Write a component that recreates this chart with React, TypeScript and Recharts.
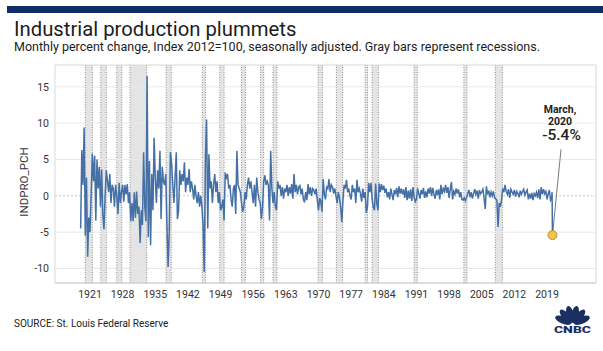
import React from 'react';
import { LineChart, Line, XAxis, YAxis, ReferenceArea, ReferenceLine, ReferenceDot } from 'recharts';

// Quarterly readings of the monthly % change (INDPRO_PCH)
const pch1919_1928 = [
  -4.5, 6.3, 1.5, 9.4,
  -5.5, 2.5, -8.4, -3.0,
  -5.0, 0.0, 5.8, 2.0,
  5.5, -3.4, 5.0, 1.0,
  4.0, -1.5, 3.6, -2.5,
  -4.6, 0.0, 3.5, 2.0,
  0.5, 3.0, -1.0, 1.5,
  1.0, -1.5, 1.5, 0.0,
  -2.5, 1.8, -1.0, 0.5,
  1.5, -0.8, 1.5, 0.2,
];
const pch1929_1938 = [
  1.6, -1.0, 0.5, -3.5,
  -1.0, -3.5, 0.5, -3.0,
  0.6, -2.5, -1.5, -6.5,
  -2.0, -4.0, 6.0, -1.5,
  -3.5, 16.5, -5.7, 4.8,
  -6.8, 3.0, -2.0, 8.0,
  2.5, -1.0, 3.5, 1.0,
  6.2, -3.2, 4.0, 2.0,
  1.5, 3.0, -4.0, -9.8,
  -5.0, 6.0, 4.5, 1.5,
];
const pch1939_1948 = [
  -1.0, 2.5, 6.0, -3.2,
  -2.0, 3.5, 1.5, 3.0,
  2.0, 4.6, 0.5, 2.5,
  1.5, 3.7, 0.5, 2.0,
  1.0, -0.5, 1.5, 0.0,
  -1.0, 0.5, -1.5, 0.0,
  -1.5, -4.0, -10.5, 5.0,
  10.5, -4.5, 5.7, 1.0,
  2.0, -1.0, 1.5, 3.0,
  0.5, 2.0, -1.0, 0.5,
];
const pch1949_1958 = [
  -2.0, -1.5, -0.5, -3.4,
  3.2, 2.5, 3.0, 1.0,
  1.5, -0.5, -1.5, 1.0,
  1.5, -2.5, 6.2, 1.5,
  1.0, 0.5, -1.0, -2.2,
  -1.5, 0.5, -0.5, 1.5,
  2.5, 1.0, 2.0, 0.5,
  -1.0, 1.5, -1.5, 2.5,
  0.5, -0.5, -1.0, -3.2,
  -1.5, 2.0, 2.8, 1.5,
];
const pch1959_1968 = [
  2.0, 1.5, -3.4, 6.2,
  1.0, -1.0, 0.5, -1.5,
  -2.0, 2.0, 1.0, 1.5,
  0.0, 1.2, -0.4, 1.0,
  0.5, 1.5, 0.0, 1.2,
  0.3, 1.6, -0.4, 3.0,
  0.5, 1.5, 0.2, 1.2,
  1.4, 0.2, 1.0, -0.5,
  -0.9, 0.5, -0.6, 1.6,
  0.2, 1.2, 0.0, 1.0,
];
const pch1969_1978 = [
  0.8, 0.2, 1.0, -0.6,
  -2.0, -0.3, -0.8, -2.2,
  2.3, 0.2, -0.5, 1.2,
  1.0, 2.3, 0.5, 1.5,
  1.2, 0.3, 1.0, 0.0,
  -1.0, 0.5, -0.3, -1.5,
  -3.6, -0.5, 1.5, 1.0,
  2.2, 0.5, 1.0, 0.0,
  -0.5, 1.5, 0.5, 1.0,
  -1.0, 2.2, 0.5, 1.0,
];
const pch1979_1988 = [
  0.3, -0.8, 1.0, -0.3,
  0.5, -2.3, -1.5, 1.8,
  0.5, 1.8, -0.5, -1.5,
  -2.0, 1.7, -1.0, -2.0,
  1.7, 0.5, 1.6, 0.8,
  1.4, 0.4, 1.0, -0.2,
  0.5, -0.5, 1.0, 0.2,
  -0.6, 0.8, 0.2, 1.1,
  -0.2, 1.3, 0.3, 1.0,
  0.2, 0.9, -0.3, 1.2,
];
const pch1989_1998 = [
  -0.6, 0.7, -0.4, 0.9,
  -0.7, 1.2, -0.2, -0.8,
  -0.5, 1.0, 0.3, -0.4,
  0.8, 0.2, 1.1, -0.3,
  0.6, -0.2, 1.0, 0.3,
  1.2, 0.0, 1.1, 0.2,
  -0.4, 0.8, 0.1, 0.9,
  -0.5, 1.5, 0.2, 1.0,
  0.6, 1.5, 0.4, 1.2,
  -0.3, 0.9, 1.9, -0.5,
];
const pch1999_2008 = [
  0.6, 0.2, 1.0, 0.3,
  0.9, -0.2, 0.5, -0.5,
  -0.6, -0.3, -0.7, -0.2,
  0.3, 0.8, -0.2, 0.5,
  -0.4, 0.3, 0.9, 0.2,
  0.7, -0.4, 0.8, 0.3,
  0.5, 0.9, -0.3, -1.8,
  1.3, 0.2, 0.7, -0.2,
  0.5, 0.0, 0.6, -0.3,
  -0.4, -0.6, -4.3, -1.0,
];
const pch2009_2018 = [
  -1.5, -0.6, 1.0, 0.5,
  1.5, 0.6, 0.2, 0.9,
  -0.3, 0.9, 0.5, 0.2,
  0.8, -0.1, 0.6, 0.3,
  -0.2, 0.7, 0.2, 0.6,
  0.9, 0.1, 0.5, 0.8,
  -0.5, 0.3, -0.4, 0.4,
  -0.6, 0.3, 0.0, 0.5,
  -0.3, 0.9, -0.5, 1.2,
  0.2, 0.9, 0.3, 0.6,
];
const pch2019 = [-0.5, 0.3, 0.8, -0.6];
// Monthly: Jan, Feb, Mar 2020
const pch2020 = [-0.3, 0.5, -5.4];

const decadeBlocks: [number, number[]][] = [
  [1919, pch1919_1928],
  [1929, pch1929_1938],
  [1939, pch1939_1948],
  [1949, pch1949_1958],
  [1959, pch1959_1968],
  [1969, pch1969_1978],
  [1979, pch1979_1988],
  [1989, pch1989_1998],
  [1999, pch1999_2008],
  [2009, pch2009_2018],
  [2019, pch2019],
];

// NBER recessions (decimal years)
const recessionStarts = [1920.0, 1923.33, 1926.75, 1929.58, 1937.33, 1945.08, 1948.83, 1953.5, 1957.58, 1960.25, 1969.92, 1973.83, 1980.0, 1981.5, 1990.5, 2001.17, 2007.92];
const recessionEnds = [1921.5, 1924.5, 1927.83, 1933.17, 1938.42, 1945.75, 1949.75, 1954.33, 1958.25, 1961.08, 1970.83, 1975.17, 1980.5, 1982.83, 1991.17, 2001.83, 2009.42];

const xTicks = [1921, 1928, 1935, 1942, 1949, 1956, 1963, 1970, 1977, 1984, 1991, 1998, 2005, 2012, 2019];
const yTicks = [-10, -5, 0, 5, 10, 15];
const xDomain: [number, number] = [1913.5, 2029.5];
const yDomain: [number, number] = [-12, 18];

const marchT = 2020 + 2 / 12;
const marchValue = -5.4;
const calloutEnd = { x: 2022.0, y: 6.4 };

const data: { t: number; v: number }[] = [];
decadeBlocks.forEach(([start, vals]) => {
  vals.forEach((v, i) => data.push({ t: start + i / 4, v }));
});
pch2020.forEach((v, i) => data.push({ t: 2020 + i / 12, v }));

const FONT = 'Roboto, "Open Sans", Arial, sans-serif';
const NAVY = '#0f2d66';

function Logo() {
  const cx = 572.5;
  const cy = 324;
  const angles = [-68, -41, -14, 14, 41, 68];
  return (
    <g>
      {angles.map((a) => (
        <ellipse
          key={a}
          cx={cx}
          cy={cy - 10}
          rx={3.6}
          ry={8.6}
          fill="#1b2f63"
          transform={`rotate(${a} ${cx} ${cy})`}
        />
      ))}
      <text x={cx} y={332.5} textAnchor="middle" fontSize={9.5} fontWeight={900} fill="#1b2f63" fontFamily={FONT} textLength={37} lengthAdjust="spacingAndGlyphs">CNBC</text>
    </g>
  );
}

export default function App() {
  return (
    <div style={{ position: 'absolute', left: 0, top: 0, width: 603, height: 351, background: '#fff', fontFamily: FONT, overflow: 'hidden' }}>
      <div style={{ position: 'absolute', left: 0, top: 0 }}>
        <LineChart width={603} height={351} data={data} margin={{ top: 65, right: 7, bottom: 38, left: 0 }}>
          {recessionStarts.map((s, i) => (
            <ReferenceArea key={`ra${i}`} x1={s} x2={recessionEnds[i]} y1={yDomain[0]} y2={yDomain[1]} fill="#e4e4e4" fillOpacity={1} stroke="none" />
          ))}
          {recessionStarts.map((s, i) => (
            <ReferenceLine key={`rs${i}`} x={s} stroke="#8c8c8c" strokeDasharray="1 1.5" strokeWidth={1} />
          ))}
          {recessionEnds.map((e, i) => (
            <ReferenceLine key={`re${i}`} x={e} stroke="#8c8c8c" strokeDasharray="1 1.5" strokeWidth={1} />
          ))}
          {yTicks.filter((v) => v !== 0).map((v) => (
            <ReferenceLine key={`g${v}`} y={v} stroke="#e9e9e9" strokeWidth={1} />
          ))}
          <ReferenceLine y={0} stroke="#c9c9c9" strokeDasharray="2 2" strokeWidth={1} />
          <ReferenceArea x1={xDomain[0]} x2={xDomain[1]} y1={yDomain[0]} y2={yDomain[1]} fill="none" stroke="#d9d9d9" strokeWidth={1} />
          <XAxis
            dataKey="t"
            type="number"
            domain={xDomain}
            ticks={xTicks}
            allowDataOverflow
            tickLine={false}
            axisLine={{ stroke: '#cfcfcf' }}
            tick={{ fontSize: 10.5, fill: '#333', fontFamily: FONT }}
            interval={0}
          />
          <YAxis
            type="number"
            domain={yDomain}
            ticks={yTicks}
            allowDataOverflow
            width={55}
            tickLine={false}
            axisLine={false}
            tickMargin={0}
            tick={{ fontSize: 10.5, fill: '#333', fontFamily: FONT }}
            interval={0}
          />
          <Line type="linear" dataKey="v" stroke="#4470a6" strokeWidth={1.5} dot={false} isAnimationActive={false} />
          <ReferenceLine segment={[{ x: marchT, y: marchValue }, { x: calloutEnd.x, y: calloutEnd.y }]} stroke="#555" strokeWidth={0.8} />
          <ReferenceDot x={marchT} y={marchValue} r={4.5} fill="#f2c544" stroke="#9a8330" strokeWidth={0.8} />
        </LineChart>
      </div>
      <svg width={603} height={351} style={{ position: 'absolute', left: 0, top: 0, pointerEvents: 'none' }}>
        <rect x={7} y={6} width={596} height={7} fill={NAVY} />
        <text x={14} y={35.5} fontSize={20.3} fill="#1c1c1c" fontFamily={FONT}>Industrial production plummets</text>
        <text x={14} y={51} fontSize={12.5} fill="#1c1c1c" fontFamily={FONT}>Monthly percent change, Index 2012=100, seasonally adjusted. Gray bars represent recessions.</text>
        <text x={28} y={182} fontSize={11.5} fill="#333" fontFamily={FONT} textAnchor="middle" transform="rotate(-90 28 182)">INDPRO_PCH</text>
        <text x={560} y={113} fontSize={10.5} fontWeight={700} fill="#222" fontFamily={FONT} textAnchor="middle">March,</text>
        <text x={560} y={124.5} fontSize={10.5} fontWeight={700} fill="#222" fontFamily={FONT} textAnchor="middle">2020</text>
        <text x={561.5} y={140} fontSize={15.5} fontWeight={500} fill="#222" fontFamily={FONT} textAnchor="middle">-5.4%</text>
        <text x={14} y={327} fontSize={10} fill="#222" fontFamily={FONT}>SOURCE: St. Louis Federal Reserve</text>
        <Logo />
      </svg>
    </div>
  );
}
